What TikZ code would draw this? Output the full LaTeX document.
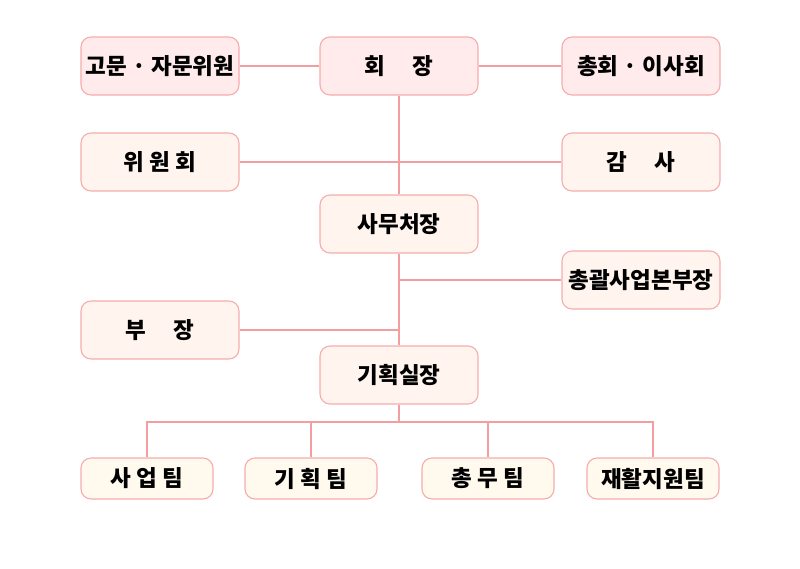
\documentclass[tikz,border=0pt]{standalone}
\usepackage{fontspec}
\setmainfont{Noto Sans CJK KR}
\definecolor{boxline}{HTML}{F6ACAC}
\definecolor{linkpink}{HTML}{F39EA1}
\definecolor{toppink}{HTML}{FFEBEC}
\definecolor{midcream}{HTML}{FFF5EE}
\definecolor{teamcream}{HTML}{FFF9EE}
\begin{document}
\begin{tikzpicture}[x=1pt,y=-1pt,
    box/.style={draw=boxline,line width=1.1pt,rounded corners=10pt,inner sep=0pt,
      minimum width=158pt,minimum height=58pt,font=\fontsize{22.5}{26}\selectfont\bfseries},
    top/.style={box,fill=toppink},
    mid/.style={box,fill=midcream},
    team/.style={box,fill=teamcream,minimum width=132pt,minimum height=41pt},
    link/.style={draw=linkpink,line width=2.2pt}]
  \useasboundingbox (0,0) rectangle (800,568);
  % top row
  \node[top] (gomun) at (160,66) {고문 · 자문위원};
  \node[top] (hoejang) at (399,66) {회\hspace{1.2em}장};
  \node[top] (chonghoe) at (641,66) {총회 · 이사회};
  % middle
  \node[mid] (wiwon) at (160,162) {위 원 회};
  \node[mid] (gamsa) at (641,162) {감\hspace{1.2em}사};
  \node[mid] (samu) at (399,224) {사무처장};
  \node[mid] (chonggwal) at (641,280) {총괄사업본부장};
  \node[mid] (bujang) at (160,330) {부\hspace{1.2em}장};
  \node[mid] (gihoek) at (399,375) {기획실장};
  % teams
  \node[team] (saeop) at (147,478.5) {사 업 팀};
  \node[team] (gihoektim) at (311,478.5) {기 획 팀};
  \node[team] (chongmu) at (488,478.5) {총 무 팀};
  \node[team] (jaehwal) at (653,478.5) {재활지원팀};
  % lines
  \coordinate (bus) at (399,422);
  \draw[link] (gomun) -- (hoejang) -- (chonghoe);
  \draw[link] (hoejang) -- (samu);
  \draw[link] (wiwon) -- (gamsa);
  \draw[link] (samu) -- (gihoek);
  \draw[link] (chonggwal) -- (chonggwal.west -| samu.south);
  \draw[link] (bujang) -- (bujang.east -| samu.south);
  \draw[link] (gihoek) -- (bus);
  \draw[link] (saeop) |- (bus) -| (jaehwal);
  \draw[link] (gihoektim) -- (gihoektim.north |- bus);
  \draw[link] (chongmu) -- (chongmu.north |- bus);
\end{tikzpicture}
\end{document}
